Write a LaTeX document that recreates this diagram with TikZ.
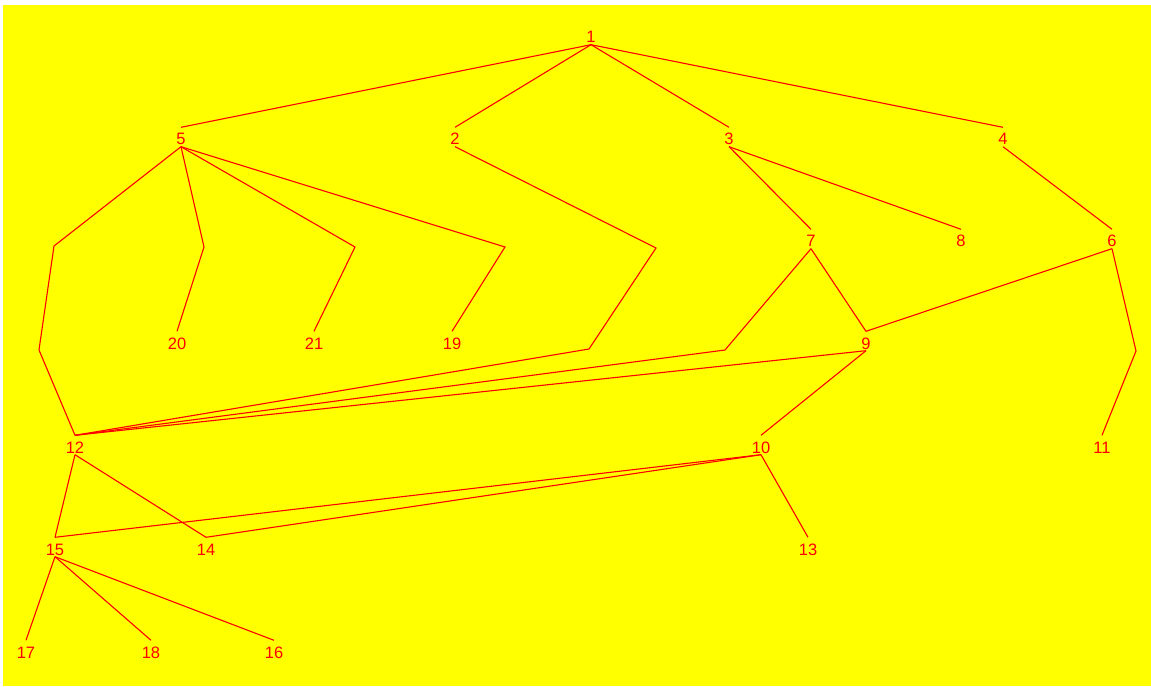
\documentclass[tikz,border=0pt]{standalone}
\usepackage{fontspec}
\setmainfont{Liberation Sans}
\usepackage{xcolor}
\definecolor{bgyellow}{HTML}{FFFF00}
\definecolor{edgered}{HTML}{FF0000}
\tikzset{
  vertex/.style={text=edgered, font=\fontsize{16.5}{18}\selectfont, inner xsep=0pt, inner ysep=1.5pt, text height=16pt, text depth=0pt},
  edge/.style={line width=1.1pt, color=edgered, line join=miter}
}

\begin{document}
\begin{tikzpicture}[x=1pt, y=-1pt]
\useasboundingbox (0,0) rectangle (1151,687);
\fill[white] (0,0) rectangle (1151,687);
\fill[bgyellow] (3,5) rectangle (1151,686);
% layer 0 and 1
\node[vertex] (n1) at (591,35) {1};
\node[vertex] (n5) at (181,137) {5};
\node[vertex] (n2) at (455,137) {2};
\node[vertex] (n3) at (729,137) {3};
\node[vertex] (n4) at (1003,137) {4};
% layer 2
\node[vertex] (n7) at (811,239) {7};
\node[vertex] (n8) at (961,239) {8};
\node[vertex] (n6) at (1112,239) {6};
% layer 3
\node[vertex] (n20) at (177,341) {20};
\node[vertex] (n21) at (314,341) {21};
\node[vertex] (n19) at (452,341) {19};
\node[vertex] (n9) at (866,341) {9};
% layer 4
\node[vertex] (n12) at (75,445) {12};
\node[vertex] (n10) at (761,445) {10};
\node[vertex] (n11) at (1102,445) {11};
% layer 5
\node[vertex] (n15) at (55,547) {15};
\node[vertex] (n14) at (206,547) {14};
\node[vertex] (n13) at (808,547) {13};
% layer 6
\node[vertex] (n17) at (26,650) {17};
\node[vertex] (n18) at (151,650) {18};
\node[vertex] (n16) at (274,650) {16};
% bend points
\coordinate (b5-20) at (204,247);
\coordinate (b5-21) at (355,247);
\coordinate (b5-19) at (505,247);
\coordinate (b5-12a) at (54,246);
\coordinate (b5-12b) at (39,350);
\coordinate (b2-12a) at (656,248);
\coordinate (b2-12b) at (589,349);
\coordinate (b7-12) at (725,350);
\coordinate (b6-11) at (1136,351);
% edges
\foreach \t in {n5,n2,n3,n4}
  \draw[edge] (n1.south) -- (\t.north);
\draw[edge] (n5.south) -- (b5-20) -- (n20.north);
\draw[edge] (n5.south) -- (b5-21) -- (n21.north);
\draw[edge] (n5.south) -- (b5-19) -- (n19.north);
\draw[edge] (n5.south) -- (b5-12a) -- (b5-12b) -- (n12.north);
\draw[edge] (n2.south) -- (b2-12a) -- (b2-12b) -- (n12.north);
\draw[edge] (n3.south) -- (n7.north);
\draw[edge] (n3.south) -- (n8.north);
\draw[edge] (n4.south) -- (n6.north);
\draw[edge] (n7.south) -- (b7-12) -- (n12.north);
\draw[edge] (n7.south) -- (n9.north);
\draw[edge] (n6.south) -- (n9.north);
\draw[edge] (n6.south) -- (b6-11) -- (n11.north);
\draw[edge] (n9.south) -- (n12.north);
\draw[edge] (n9.south) -- (n10.north);
\draw[edge] (n12.south) -- (n15.north);
\draw[edge] (n12.south) -- (n14.north);
\foreach \t in {n15,n14,n13}
  \draw[edge] (n10.south) -- (\t.north);
\foreach \t in {n17,n18,n16}
  \draw[edge] (n15.south) -- (\t.north);
\end{tikzpicture}
\end{document}
